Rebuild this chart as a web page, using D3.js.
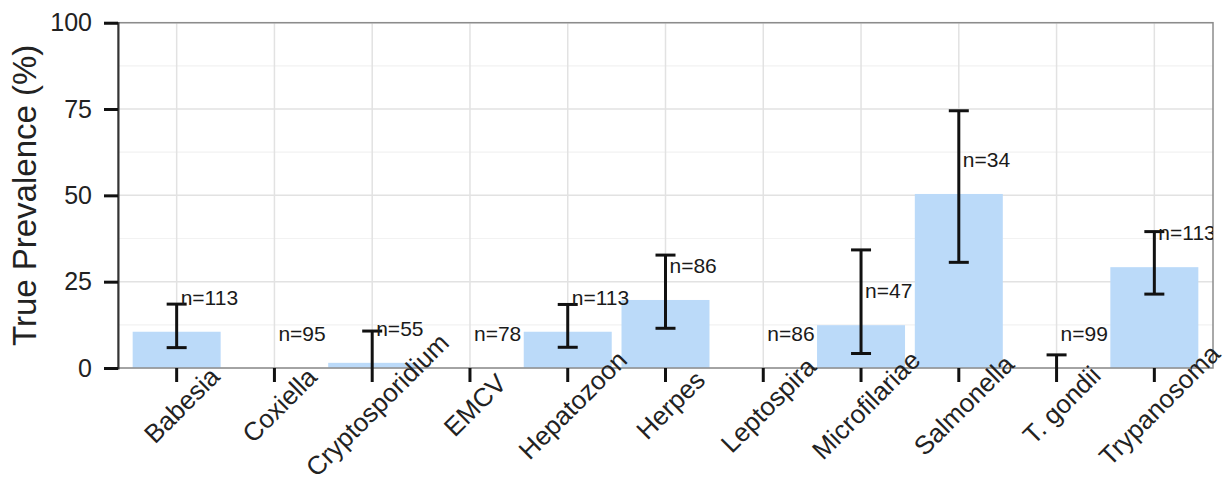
<!DOCTYPE html>
<html>
<head>
<meta charset="utf-8">
<script src="https://cdn.jsdelivr.net/npm/d3@7"></script>
<style>
  html, body { margin: 0; padding: 0; background: #ffffff; }
  svg { display: block; font-family: "Liberation Sans", Arial, Helvetica, sans-serif; }
</style>
</head>
<body>
<svg id="chart" width="1231" height="484"></svg>
<script>
const categories = ["Babesia", "Coxiella", "Cryptosporidium", "EMCV", "Hepatozoon", "Herpes",
                    "Leptospira", "Microfilariae", "Salmonella", "T. gondii", "Trypanosoma"];
const prevalence = [10.5, 0, 1.5, 0, 10.5, 19.7, 0, 12.4, 50.4, 0, 29.2];
const lowerCI    = [5.9, null, 0, null, 6.0, 11.5, null, 4.2, 30.6, 0, 21.4];
const upperCI    = [18.5, null, 10.7, null, 18.4, 32.7, null, 34.2, 74.5, 3.8, 39.5];
const sampleSize = [113, 95, 55, 78, 113, 86, 86, 47, 34, 99, 113];
const yTicks     = [0, 25, 50, 75, 100];
const yMinorTicks = [12.5, 37.5, 62.5, 87.5];
const yTitle = "True Prevalence (%)";

const svg = d3.select("#chart");
const pLeft = 118, pRight = 1213, pTop = 22.7, pBottom = 368;

const x = d3.scaleBand().domain(categories).range([pLeft, pRight])
  .paddingInner(0.1).paddingOuter(0.15);
const y = d3.scaleLinear().domain([0, 100]).range([pBottom, pTop]);
const cx = c => x(c) + x.bandwidth() / 2;

const data = categories.map((c, i) => ({
  cat: c, value: prevalence[i], lo: lowerCI[i], hi: upperCI[i], n: sampleSize[i]
}));

// clip
svg.append("defs").append("clipPath").attr("id", "panel")
  .append("rect").attr("x", pLeft).attr("y", pTop).attr("width", pRight - pLeft).attr("height", pBottom - pTop);

// grid
const grid = svg.append("g");
grid.selectAll(".minor").data(yMinorTicks).join("line")
  .attr("x1", pLeft).attr("x2", pRight).attr("y1", d => y(d)).attr("y2", d => y(d))
  .attr("stroke", "#f2f2f2").attr("stroke-width", 1.2);
grid.selectAll(".major").data(yTicks).join("line")
  .attr("x1", pLeft).attr("x2", pRight).attr("y1", d => y(d)).attr("y2", d => y(d))
  .attr("stroke", "#e2e2e2").attr("stroke-width", 1.5);
grid.selectAll(".vgrid").data(categories).join("line")
  .attr("x1", d => cx(d)).attr("x2", d => cx(d)).attr("y1", pTop).attr("y2", pBottom)
  .attr("stroke", "#e2e2e2").attr("stroke-width", 1.5);

// bars
svg.append("g").selectAll("rect").data(data).join("rect")
  .attr("x", d => x(d.cat)).attr("width", x.bandwidth())
  .attr("y", d => y(d.value)).attr("height", d => y(0) - y(d.value))
  .attr("fill", "#bbdaf9");

// panel border
svg.append("rect").attr("x", pLeft).attr("y", pTop).attr("width", pRight - pLeft).attr("height", pBottom - pTop)
  .attr("fill", "none").attr("stroke", "#8c8c8c").attr("stroke-width", 1.5);

// error bars
const eb = svg.append("g").attr("stroke", "#111").attr("stroke-width", 3);
const ebData = data.filter(d => d.hi !== null);
eb.selectAll(".v").data(ebData).join("line")
  .attr("x1", d => cx(d.cat)).attr("x2", d => cx(d.cat))
  .attr("y1", d => y(d.lo)).attr("y2", d => y(d.hi));
eb.selectAll(".t").data(ebData).join("line")
  .attr("x1", d => cx(d.cat) - 10).attr("x2", d => cx(d.cat) + 10)
  .attr("y1", d => y(d.hi)).attr("y2", d => y(d.hi));
eb.selectAll(".b").data(ebData.filter(d => d.lo > 0)).join("line")
  .attr("x1", d => cx(d.cat) - 10).attr("x2", d => cx(d.cat) + 10)
  .attr("y1", d => y(d.lo)).attr("y2", d => y(d.lo));

// n labels
svg.append("g").attr("clip-path", "url(#panel)").selectAll("text").data(data).join("text")
  .attr("x", d => cx(d.cat) + 4).attr("y", d => y(d.value + 10))
  .attr("dy", "0.35em").attr("font-size", 21).attr("fill", "#1a1a1a")
  .text(d => "n=" + d.n);

// y axis
const yAxis = svg.append("g").attr("transform", `translate(${pLeft},0)`)
  .call(d3.axisLeft(y).tickValues(yTicks).tickSize(14).tickPadding(12));
yAxis.select(".domain").attr("stroke", "#333").attr("stroke-width", 2);
yAxis.selectAll(".tick line").attr("stroke", "#111").attr("stroke-width", 3);
yAxis.selectAll(".tick text").attr("font-size", 25).attr("fill", "#222")
  .attr("font-family", "Liberation Sans, Arial, sans-serif");

// x axis
const xAxis = svg.append("g").attr("transform", `translate(0,${pBottom})`)
  .call(d3.axisBottom(x).tickSize(14).tickFormat(""));
xAxis.select(".domain").remove();
xAxis.selectAll(".tick line").attr("stroke", "#111").attr("stroke-width", 3);

svg.append("g").selectAll("text").data(categories).join("text")
  .attr("transform", d => `translate(${cx(d) + 5},${pBottom + 37}) rotate(-45)`)
  .attr("text-anchor", "middle").attr("dy", "0.35em")
  .attr("font-size", 26).attr("fill", "#222")
  .text(d => d);

// y title
svg.append("text")
  .attr("transform", `translate(36,${(pTop + pBottom) / 2}) rotate(-90)`)
  .attr("text-anchor", "middle").attr("font-size", 33).attr("fill", "#222")
  .text(yTitle);
</script>
</body>
</html>
